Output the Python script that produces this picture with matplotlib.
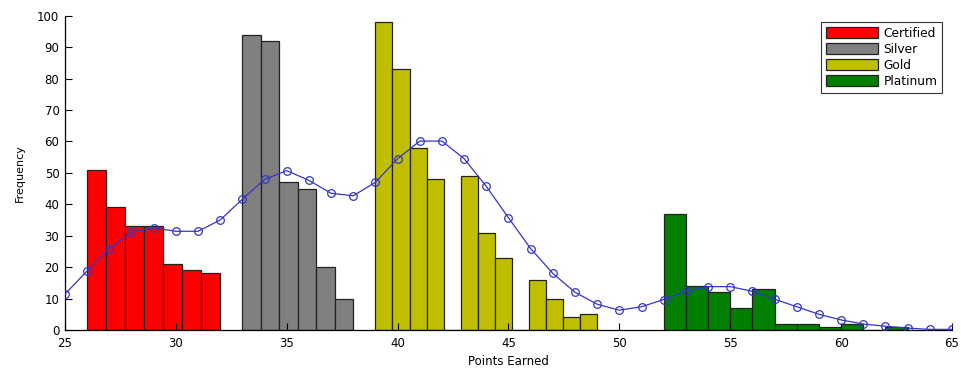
import numpy as np
import matplotlib
matplotlib.use("Agg")
import matplotlib.pyplot as plt

plt.rcParams['font.family'] = ['DejaVu Sans']

# ---- data ----
certified_counts = [51, 39, 33, 33, 21, 19, 18]
certified_range = (26, 32)
silver_counts = [94, 92, 47, 45, 20, 10]
silver_range = (33, 38)
gold_counts = [98, 83, 58, 48, 0, 49, 31, 23, 0, 16, 10, 4, 5]
gold_range = (39, 49)
platinum_counts = [37, 14, 12, 7, 13, 2, 2, 1, 2, 0, 1]
platinum_range = (52, 63)

curve_x = list(range(25, 66))
curve_y = [11.4, 18.8, 25.9, 31.1, 32.5, 31.4, 31.4, 35.0, 41.6, 47.9,
           50.7, 47.6, 43.5, 42.7, 47.0, 54.5, 60.1, 60.1, 54.5, 45.7,
           35.7, 25.9, 18.0, 12.0, 8.2, 6.3, 7.4, 9.7, 12.4, 13.8,
           13.8, 12.3, 9.8, 7.4, 5.0, 3.2, 1.9, 1.2, 0.6, 0.2, 0.2]

labels = ['Certified', 'Silver', 'Gold', 'Platinum']
colors = ['#ff0000', '#808080', '#bfbf00', '#007f00']
x_ticks = [25, 30, 35, 40, 45, 50, 55, 60, 65]
y_ticks = [0, 10, 20, 30, 40, 50, 60, 70, 80, 90, 100]

fig = plt.figure(figsize=(9.61, 3.73), dpi=100)
ax = fig.add_axes([0.0676, 0.1153, 0.9230, 0.8427])

groups = [(certified_counts, certified_range), (silver_counts, silver_range),
          (gold_counts, gold_range), (platinum_counts, platinum_range)]
handles = []
for (counts, (lo, hi)), lab, col in zip(groups, labels, colors):
    edges = np.linspace(lo, hi, len(counts) + 1)
    widths = np.diff(edges)
    b = ax.bar(edges[:-1], counts, width=widths, align='edge', color=col,
               edgecolor='#222222', linewidth=0.9, label=lab)
    handles.append(b)

ax.plot(curve_x, curve_y, color='#3535c8', linewidth=0.9, marker='o',
        markersize=5.5, markerfacecolor='none', markeredgecolor='#3535c8',
        markeredgewidth=0.9, zorder=5)

ax.set_xlim(25, 65)
ax.set_ylim(0, 100)
ax.set_xticks(x_ticks)
ax.set_yticks(y_ticks)
ax.tick_params(direction='in', length=5, width=0.8, labelsize=8.5,
               colors='black')
ax.tick_params(axis='x', pad=5)
ax.tick_params(axis='y', pad=4)
for s in ['top', 'right']:
    ax.spines[s].set_visible(False)
for s in ['left', 'bottom']:
    ax.spines[s].set_linewidth(0.9)

ax.set_xlabel('Points Earned', fontsize=8.5, labelpad=4)
ax.set_ylabel('Frequency', fontsize=8, labelpad=9)

leg = ax.legend(handles=handles, labels=labels, loc='upper right',
                bbox_to_anchor=(0.989, 0.98), fontsize=8.8, frameon=True,
                fancybox=False, edgecolor='black', handlelength=4.3,
                handleheight=1.0, handletextpad=0.4, labelspacing=0.25,
                borderpad=0.4, borderaxespad=0)
leg.get_frame().set_linewidth(0.8)

fig.savefig('out.png', dpi=100, facecolor='white')
